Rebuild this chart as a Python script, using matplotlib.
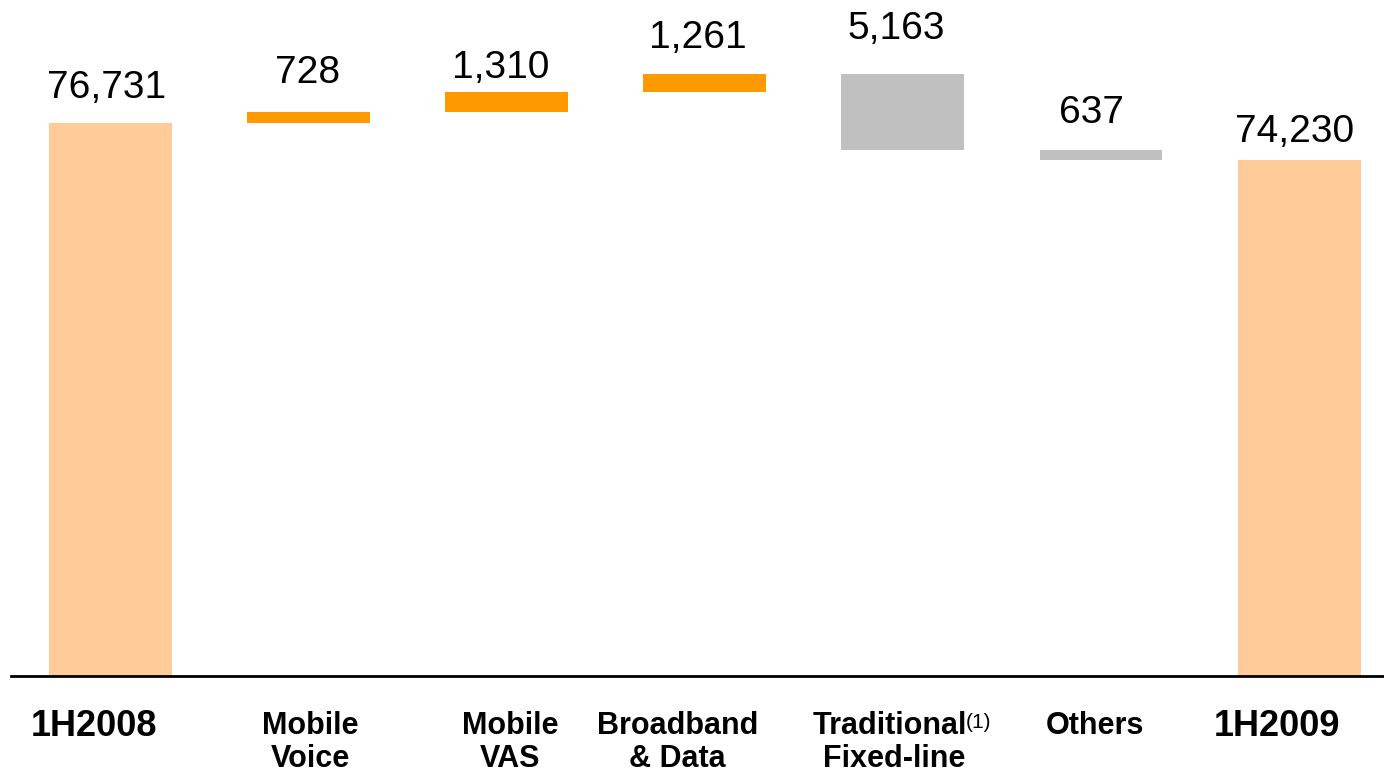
import matplotlib
matplotlib.use("Agg")
import matplotlib.pyplot as plt
import matplotlib.transforms as mtransforms

plt.rcParams['font.family'] = ['Liberation Sans', 'DejaVu Sans']

# data
categories = [["1H2008"], ["Mobile", "Voice"], ["Mobile", "VAS"], ["Broadband", "& Data"],
              ["Traditional", "Fixed-line"], ["Others"], ["1H2009"]]
start_total = 76731
changes = [728, 1310, 1261, -5163, -637]
end_total = 74230
value_labels = ["76,731", "728", "1,310", "1,261", "5,163", "637", "74,230"]

# colours
c_total = "#FFCC99"
c_up = "#FF9900"
c_down = "#C0C0C0"

# layout tweaks (pixels) to follow the slide's hand placed text boxes
label_dx = [-4, -1, -6, -7, -7, -10, -5]
label_gap = [25, 29, 14, 26, 35, 27, 18]
cat_dx = [[-16], [2, 2], [4, 4], [-27, -27], [-13, -9], [-6], [-22]]

px = 0.72  # points per pixel at dpi 100

fig = plt.figure(figsize=(13.84, 7.71), dpi=100)
ax = fig.add_axes([0.008, 0.1236, 0.992, 0.8764])

# build waterfall
bottoms, heights, colors = [], [], []
bottoms.append(0)
heights.append(start_total)
colors.append(c_total)
running = start_total
for d in changes:
    if d >= 0:
        bottoms.append(running)
        heights.append(d)
        colors.append(c_up)
    else:
        bottoms.append(running + d)
        heights.append(-d)
        colors.append(c_down)
    running += d
bottoms.append(0)
heights.append(end_total)
colors.append(c_total)

xs = list(range(len(categories)))
ax.bar(xs, heights, bottom=bottoms, width=0.62, color=colors, edgecolor='none', zorder=2)

ax.set_xlim(-0.5, 6.428)
ax.set_ylim(39642, 84960)

for s in ["top", "left", "right"]:
    ax.spines[s].set_visible(False)
ax.spines["bottom"].set_linewidth(2)
ax.spines["bottom"].set_color("black")
ax.spines["bottom"].set_zorder(3)
ax.set_xticks([])
ax.set_yticks([])

# value labels above each bar
for i, lab in enumerate(value_labels):
    top = bottoms[i] + heights[i]
    ax.annotate(lab, xy=(i, top), xytext=(label_dx[i] * px, label_gap[i] * px),
                textcoords='offset points', ha='center', va='baseline',
                fontsize=28, color='black')

# category labels under the axis
trans = mtransforms.blended_transform_factory(ax.transData, ax.transAxes)
for i, lines in enumerate(categories):
    big = len(lines) == 1 and lines[0].startswith("1H")
    fs = 26 if big else 22
    for j, line in enumerate(lines):
        dy = -60 if big else (-57.8 - 33.5 * j)
        t = ax.annotate(line, xy=(i, 0), xycoords=trans,
                        xytext=(cat_dx[i][j] * px, dy * px), textcoords='offset points',
                        ha='center', va='baseline', fontsize=fs, fontweight='bold',
                        annotation_clip=False)
        if line == "Traditional":
            ax.annotate("(1)", xy=(1, 1), xycoords=t, xytext=(-1, -2),
                        textcoords='offset points', ha='left', va='top',
                        fontsize=15, annotation_clip=False)

fig.savefig("out.png", dpi=100)
